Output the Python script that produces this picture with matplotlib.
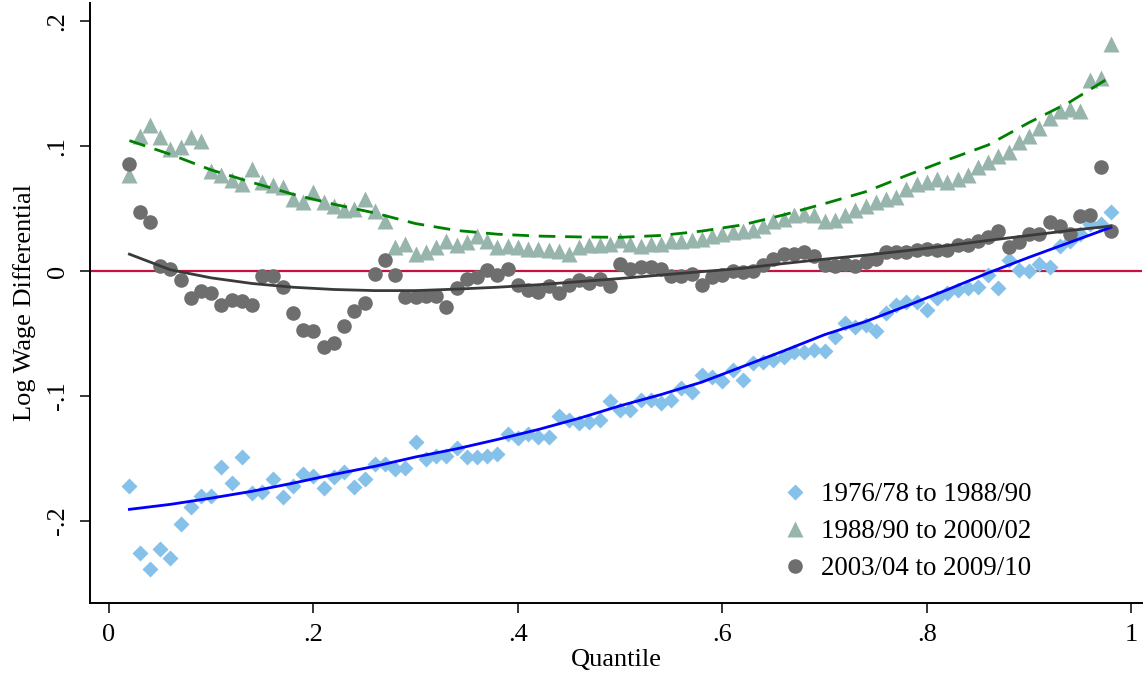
import numpy as np
import matplotlib
matplotlib.use("Agg")
import matplotlib.pyplot as plt

# quantiles .02 ... .98
quantile = [round(0.02 + 0.01 * i, 2) for i in range(97)]

wage_7678_8890 = [
    -0.172, -0.226, -0.239, -0.223, -0.230, -0.203, -0.189, -0.180, -0.180, -0.157,
    -0.170, -0.149, -0.178, -0.177, -0.167, -0.181, -0.172, -0.163, -0.164, -0.174,
    -0.165, -0.161, -0.173, -0.167, -0.155, -0.155, -0.159, -0.158, -0.137, -0.151,
    -0.148, -0.148, -0.142, -0.149, -0.149, -0.148, -0.147, -0.131, -0.134, -0.131,
    -0.133, -0.133, -0.116, -0.119, -0.122, -0.121, -0.119, -0.104, -0.111, -0.111,
    -0.103, -0.103, -0.106, -0.103, -0.094, -0.097, -0.083, -0.085, -0.088, -0.079,
    -0.087, -0.074, -0.073, -0.071, -0.069, -0.065, -0.065, -0.063, -0.064, -0.053,
    -0.042, -0.045, -0.043, -0.048, -0.034, -0.027, -0.025, -0.025, -0.031, -0.022,
    -0.018, -0.015, -0.014, -0.013, -0.003, -0.014, 0.009, 0.001, 0.000, 0.006,
    0.003, 0.020, 0.024, 0.030, 0.038, 0.038, 0.047,
]

wage_8890_0002 = [
    0.077, 0.108, 0.117, 0.107, 0.098, 0.099, 0.107, 0.104, 0.080, 0.077,
    0.073, 0.070, 0.082, 0.071, 0.069, 0.067, 0.058, 0.055, 0.063, 0.055,
    0.052, 0.049, 0.050, 0.058, 0.048, 0.040, 0.019, 0.022, 0.014, 0.015,
    0.019, 0.024, 0.021, 0.023, 0.028, 0.024, 0.019, 0.020, 0.019, 0.018,
    0.018, 0.017, 0.016, 0.014, 0.019, 0.021, 0.021, 0.022, 0.025, 0.022,
    0.020, 0.022, 0.022, 0.024, 0.024, 0.025, 0.026, 0.028, 0.030, 0.031,
    0.032, 0.033, 0.036, 0.040, 0.042, 0.045, 0.046, 0.045, 0.040, 0.041,
    0.045, 0.049, 0.052, 0.055, 0.058, 0.059, 0.066, 0.070, 0.071, 0.074,
    0.071, 0.074, 0.077, 0.083, 0.087, 0.092, 0.095, 0.103, 0.108, 0.115,
    0.123, 0.128, 0.130, 0.128, 0.153, 0.155, 0.182,
]

wage_0304_0910 = [
    0.086, 0.047, 0.039, 0.004, 0.002, -0.007, -0.022, -0.016, -0.018, -0.027,
    -0.023, -0.024, -0.027, -0.004, -0.004, -0.013, -0.034, -0.047, -0.048, -0.061,
    -0.058, -0.044, -0.032, -0.026, -0.002, 0.009, -0.003, -0.021, -0.021, -0.020,
    -0.020, -0.029, -0.014, -0.006, -0.005, 0.001, -0.003, 0.002, -0.011, -0.015,
    -0.017, -0.012, -0.018, -0.011, -0.007, -0.010, -0.006, -0.012, 0.006, 0.002,
    0.003, 0.003, 0.002, -0.004, -0.004, -0.002, -0.011, -0.005, -0.003, 0.000,
    -0.001, 0.000, 0.005, 0.010, 0.014, 0.014, 0.015, 0.012, 0.005, 0.004,
    0.006, 0.004, 0.007, 0.010, 0.015, 0.015, 0.015, 0.017, 0.018, 0.017,
    0.017, 0.021, 0.021, 0.024, 0.027, 0.032, 0.019, 0.023, 0.030, 0.030,
    0.039, 0.036, 0.030, 0.044, 0.045, 0.083, 0.032,
]

# smoothed fits, every .04
fit_quantile = [round(0.02 + 0.04 * i, 2) for i in range(25)]
fit_7678_8890 = [
    -0.191, -0.187, -0.182, -0.1765, -0.170, -0.163, -0.1565, -0.149, -0.1425,
    -0.135, -0.127, -0.118, -0.108, -0.099, -0.089, -0.0765, -0.064, -0.051,
    -0.0405, -0.028, -0.015, -0.0015, 0.011, 0.023, 0.035,
]
fit_8890_0002 = [
    0.1045, 0.0935, 0.081, 0.071, 0.0615, 0.0535, 0.0465, 0.038, 0.0325,
    0.0295, 0.028, 0.0273, 0.027, 0.0285, 0.032, 0.037, 0.045, 0.054,
    0.0635, 0.0765, 0.089, 0.101, 0.119, 0.1355, 0.1557,
]
fit_0304_0910 = [
    0.0135, 0.001, -0.0055, -0.010, -0.013, -0.0148, -0.0157, -0.0157, -0.0145,
    -0.013, -0.011, -0.0085, -0.006, -0.0032, -0.0005, 0.0022, 0.006, 0.0095,
    0.0127, 0.0163, 0.0203, 0.0245, 0.0285, 0.0325, 0.036,
]

labels = ["1976/78 to 1988/90", "1988/90 to 2000/02", "2003/04 to 2009/10"]

plt.rcParams["font.family"] = ["Liberation Serif", "DejaVu Serif"]
plt.rcParams["font.size"] = 19

fig = plt.figure(figsize=(11.48, 6.79), dpi=100)
ax = fig.add_axes([0.078, 0.112, 0.917, 0.884])

ax.axhline(0, color="#c8103e", lw=1.6, zorder=1)

ax.plot(quantile, wage_7678_8890, ls="none", marker="D", ms=8.5, color="#85c1e9",
        mec="none", label=labels[0], zorder=2)
ax.plot(quantile, wage_8890_0002, ls="none", marker="^", ms=12, color="#98b5ad",
        mec="none", label=labels[1], zorder=3)
ax.plot(quantile, wage_0304_0910, ls="none", marker="o", ms=10.5, color="#6e6e6e",
        mec="none", label=labels[2], zorder=4)

ax.plot(fit_quantile, fit_7678_8890, color="#0000ff", lw=2, zorder=5)
ax.plot(fit_quantile, fit_8890_0002, color="#008000", lw=2, ls=(0, (6, 3.5)), zorder=5)
ax.plot(fit_quantile, fit_0304_0910, color="#3a3a3a", lw=2, zorder=5)

ax.set_xlim(-0.019, 1.0107)
ax.set_ylim(-0.266, 0.215)
ax.set_xticks([0, 0.2, 0.4, 0.6, 0.8, 1])
ax.set_xticklabels(["0", ".2", ".4", ".6", ".8", "1"])
ax.set_yticks([-0.2, -0.1, 0, 0.1, 0.2])
ax.set_yticklabels(["-.2", "-.1", "0", ".1", ".2"], rotation=90, va="center")

for side in ["top", "right"]:
    ax.spines[side].set_visible(False)
for side in ["left", "bottom"]:
    ax.spines[side].set_linewidth(1.4)
ax.tick_params(direction="out", length=7, width=1.1, pad=8)

ax.set_xlabel("Quantile", labelpad=2)
ax.set_ylabel("Log Wage Differential", labelpad=8)

fig.legend(loc="upper left", bbox_to_anchor=(0.6808, 0.2894), frameon=False,
           numpoints=1, handlelength=1.0, handletextpad=0.45, labelspacing=0.44,
           borderpad=0, borderaxespad=0, fontsize=19.4)

fig.savefig("out.png", dpi=100)
